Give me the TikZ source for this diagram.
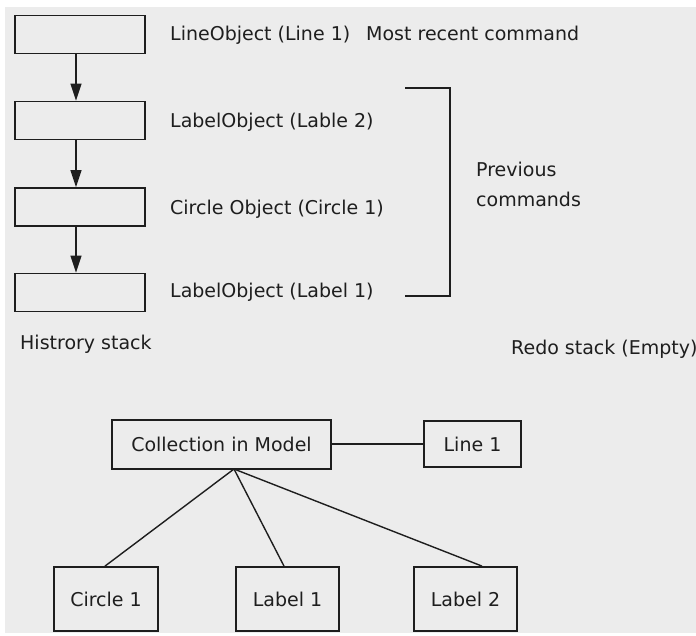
\documentclass[tikz,border=0pt]{standalone}
\usepackage{fontspec}
\setmainfont{DejaVu Sans}
\usetikzlibrary{arrows.meta}
\definecolor{bg}{HTML}{ECECEC}
\definecolor{ink}{HTML}{1E1E1E}
\begin{document}
\begin{tikzpicture}[x=1pt,y=-1pt,
  stackbox/.style={draw=ink,line width=1.8pt,minimum width=130pt,minimum height=38pt,inner sep=0pt},
  objbox/.style={draw=ink,line width=1.8pt,inner sep=0pt,font=\fontsize{19}{22}\selectfont,text=ink},
  txt/.style={anchor=base west,inner sep=0pt,font=\fontsize{19}{22}\selectfont,text=ink},
  arr/.style={draw=ink,line width=1.5pt,-{Triangle[length=17pt,width=11pt]}},
  conn/.style={draw=ink,line width=1.4pt}]
\useasboundingbox (0,0) rectangle (696,636);
\fill[bg] (5,7) rectangle (696,633);
% history stack
\node[stackbox] (b1) at (80,34.5) {};
\node[stackbox] (b2) at (80,120.5) {};
\node[stackbox] (b3) at (80,207) {};
\node[stackbox] (b4) at (80,292.5) {};
\draw[arr] ([xshift=-4pt]b1.south) -- ([xshift=-4pt]b2.north);
\draw[arr] ([xshift=-4pt]b2.south) -- ([xshift=-4pt]b3.north);
\draw[arr] ([xshift=-4pt]b3.south) -- ([xshift=-4pt]b4.north);
\node[txt] (t1) at (170,41) {LineObject (Line 1)};
\node[txt] (mr) at (366,41) {Most recent command};
\node[txt] (t2) at (170,128) {LabelObject (Lable 2)};
\node[txt] (t3) at (170,215) {Circle Object (Circle 1)};
\node[txt] (t4) at (170,298) {LabelObject (Label 1)};
\node[txt] (hs) at (20,349) {Histrory stack};
% bracket
\coordinate (bt) at (405,88);
\coordinate (bb) at (405,296);
\draw[conn,line width=1.6pt] (bt) -- (450,88) -- (450,296) -- (bb);
\node[txt] (pv) at (476,177) {Previous};
\node[txt] (cm) at (476,207) {commands};
\node[txt] (rs) at (511,354) {Redo stack (Empty)};
% model collection
\node[objbox,minimum width=219pt,minimum height=49pt] (col) at (221.5,444.5) {Collection in Model};
\node[objbox,minimum width=97pt,minimum height=46pt] (l1) at (472.5,444) {Line 1};
\node[objbox,minimum width=104pt,minimum height=64pt] (c1) at (106,599) {\raisebox{0pt}{Circle 1}};
\node[objbox,minimum width=103pt,minimum height=64pt] (lb1) at (287.5,599) {\raisebox{-5pt}{Label 1}};
\node[objbox,minimum width=103pt,minimum height=64pt] (lb2) at (465.5,599) {\raisebox{-1pt}{Label 2}};
\coordinate (apex) at (234,469);
\draw[conn] (col.east |- l1.west) -- (l1.west);
\draw[conn] (apex) -- (c1.north -| 105,0);
\draw[conn] (apex) -- (lb1.north -| 284,0);
\draw[conn] (apex) -- (lb2.north -| 482,0);
\end{tikzpicture}
\end{document}
